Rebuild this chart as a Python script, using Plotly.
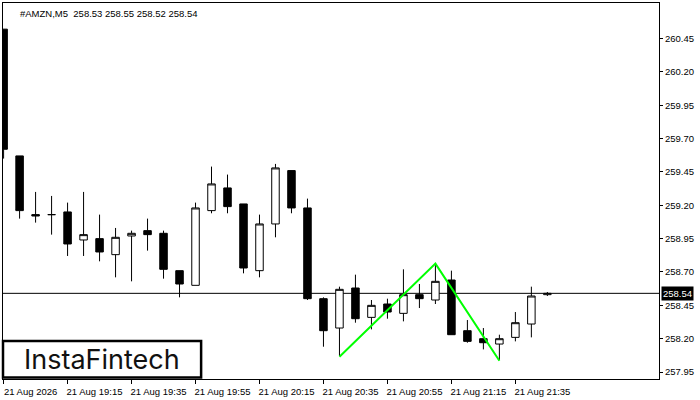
import plotly.graph_objects as go

symbol = "#AMZN,M5"
times = [
    "2026-08-21 18:55", "2026-08-21 19:00", "2026-08-21 19:05", "2026-08-21 19:10",
    "2026-08-21 19:15", "2026-08-21 19:20", "2026-08-21 19:25", "2026-08-21 19:30",
    "2026-08-21 19:35", "2026-08-21 19:40", "2026-08-21 19:45", "2026-08-21 19:50",
    "2026-08-21 19:55", "2026-08-21 20:00", "2026-08-21 20:05", "2026-08-21 20:10",
    "2026-08-21 20:15", "2026-08-21 20:20", "2026-08-21 20:25", "2026-08-21 20:30",
    "2026-08-21 20:35", "2026-08-21 20:40", "2026-08-21 20:45", "2026-08-21 20:50",
    "2026-08-21 20:55", "2026-08-21 21:00", "2026-08-21 21:05", "2026-08-21 21:10",
    "2026-08-21 21:15", "2026-08-21 21:20", "2026-08-21 21:25", "2026-08-21 21:30",
    "2026-08-21 21:35", "2026-08-21 21:40", "2026-08-21 21:45",
]
opens = [260.52, 259.57, 259.13, 259.13, 259.15, 258.94, 258.95, 258.83, 258.97, 259.01,
         258.99, 258.71, 258.60, 259.16, 259.33, 259.21, 258.71, 259.06, 259.46, 259.18,
         258.50, 258.28, 258.58, 258.36, 258.46, 258.39, 258.53, 258.49, 258.64, 258.26,
         258.20, 258.16, 258.21, 258.31, 258.53]
highs = [260.52, 259.57, 259.30, 259.27, 259.22, 259.30, 259.13, 259.03, 259.01, 259.10,
         259.01, 258.71, 259.22, 259.49, 259.43, 259.21, 259.13, 259.51, 259.46, 259.25,
         258.51, 258.59, 258.68, 258.49, 258.50, 258.72, 258.61, 258.76, 258.71, 258.34,
         258.28, 258.23, 258.40, 258.59, 258.55]
lows = [259.55, 259.10, 259.07, 258.98, 258.82, 258.82, 258.78, 258.66, 258.63, 258.86,
        258.65, 258.51, 258.60, 259.14, 259.14, 258.69, 258.66, 258.96, 259.14, 258.49,
        258.14, 258.07, 258.32, 258.27, 258.35, 258.33, 258.43, 258.46, 258.23, 258.17,
        258.12, 258.04, 258.18, 258.21, 258.52]
closes = [259.62, 259.16, 259.12, 259.13, 258.91, 258.98, 258.85, 258.96, 258.99, 258.98,
          258.72, 258.61, 259.18, 259.36, 259.19, 258.73, 259.06, 259.48, 259.18, 258.50,
          258.26, 258.57, 258.35, 258.45, 258.40, 258.53, 258.50, 258.63, 258.23, 258.18,
          258.17, 258.20, 258.32, 258.52, 258.54]

x_tick_times = ["2026-08-21 18:55", "2026-08-21 19:15", "2026-08-21 19:35", "2026-08-21 19:55",
                "2026-08-21 20:15", "2026-08-21 20:35", "2026-08-21 20:55", "2026-08-21 21:15",
                "2026-08-21 21:35"]
x_tick_labels = ["21 Aug 2026", "21 Aug 19:15", "21 Aug 19:35", "21 Aug 19:55", "21 Aug 20:15",
                 "21 Aug 20:35", "21 Aug 20:55", "21 Aug 21:15", "21 Aug 21:35"]
y_ticks = [257.95, 258.20, 258.45, 258.70, 258.95, 259.20, 259.45, 259.70, 259.95, 260.20, 260.45]

pattern_times = ["2026-08-21 20:40", "2026-08-21 21:10", "2026-08-21 21:30"]
pattern_prices = [258.065, 258.763, 258.035]

last_price = closes[-1]
title_text = f"{symbol}  {opens[-1]:.2f} {highs[-1]:.2f} {lows[-1]:.2f} {closes[-1]:.2f}"

font_main = "Liberation Sans, Arial, sans-serif"

fig = go.Figure()
fig.add_trace(go.Candlestick(
    x=times, open=opens, high=highs, low=lows, close=closes,
    increasing=dict(line=dict(color="black", width=1), fillcolor="white"),
    decreasing=dict(line=dict(color="black", width=1), fillcolor="black"),
    whiskerwidth=0, showlegend=False, hoverinfo="skip",
))
fig.add_trace(go.Scatter(
    x=pattern_times, y=pattern_prices, mode="lines",
    line=dict(color="#00FF00", width=2), showlegend=False, hoverinfo="skip",
))

fig.add_shape(type="line", xref="paper", x0=0, x1=1, yref="y", y0=last_price, y1=last_price,
              line=dict(color="black", width=1), layer="below")

# logo box
fig.add_shape(type="rect", xref="paper", yref="paper", x0=0, x1=0.302, y0=0.004, y1=0.101,
              line=dict(color="black", width=2.5), fillcolor="white", layer="above")
fig.add_annotation(xref="paper", yref="paper", x=0.151, y=0.052, text="InstaFintech",
                   showarrow=False, font=dict(family="Inter, Lato, sans-serif", size=27, color="#111111"),
                   xanchor="center", yanchor="middle")

fig.add_annotation(xref="paper", yref="paper", x=0.023, y=0.992, text=title_text,
                   showarrow=False, xanchor="left", yanchor="top",
                   font=dict(family=font_main, size=9.5, color="black"))

fig.add_annotation(xref="paper", yref="y", x=1, y=last_price, text=f"{last_price:.2f}",
                   showarrow=False, xanchor="left", yanchor="middle", xshift=2,
                   bgcolor="black", borderpad=1,
                   font=dict(family=font_main, size=9.5, color="white"))

fig.update_layout(
    width=700, height=400,
    margin=dict(l=3, r=41, t=2.5, b=21),
    paper_bgcolor="white", plot_bgcolor="white",
    boxgap=0.33,
    hovermode=False,
    font=dict(family=font_main, size=9.5, color="black"),
    xaxis=dict(
        type="category", range=[-0.0375, 40.98], rangeslider=dict(visible=False),
        tickmode="array", tickvals=x_tick_times, ticktext=x_tick_labels,
        ticks="outside", ticklen=4, tickcolor="black", ticklabelshift=27,
        showgrid=False, zeroline=False, showline=True, linecolor="black", linewidth=1, mirror=True,
        tickfont=dict(family=font_main, size=9.5, color="black"),
    ),
    yaxis=dict(
        side="right", range=[257.898, 260.716],
        tickmode="array", tickvals=y_ticks, tickformat=".2f",
        ticks="outside", ticklen=3, tickcolor="black",
        showgrid=False, zeroline=False, showline=True, linecolor="black", linewidth=1, mirror=True,
        tickfont=dict(family=font_main, size=9.5, color="black"),
    ),
)

fig.write_html(
    "out.html",
    config={"displayModeBar": False, "staticPlot": True},
    post_script="document.body.style.margin='0';document.body.style.padding='0';"
                "document.documentElement.style.overflow='hidden';",
)
